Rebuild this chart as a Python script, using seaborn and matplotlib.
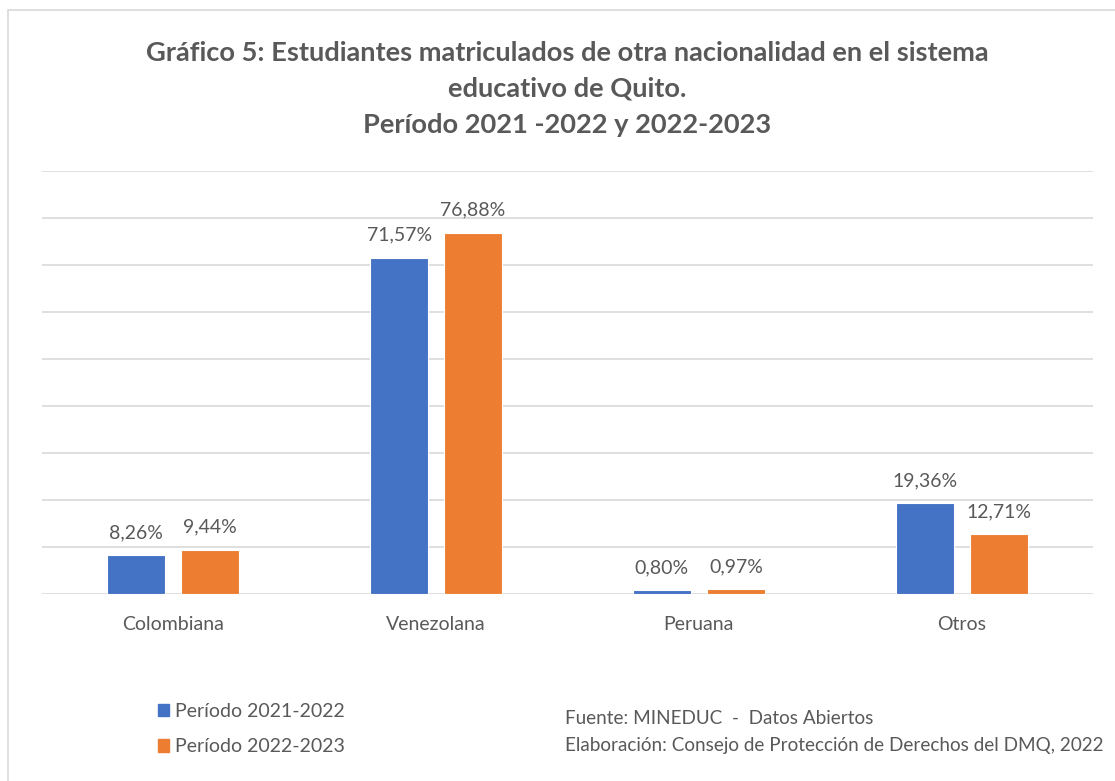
import matplotlib
matplotlib.use("Agg")
import matplotlib.pyplot as plt
from matplotlib.patches import Rectangle
import seaborn as sns
import pandas as pd

# data
nacionalidades = ["Colombiana", "Venezolana", "Peruana", "Otros"]
periodo_2021_2022 = [8.26, 71.57, 0.80, 19.36]
periodo_2022_2023 = [9.44, 76.88, 0.97, 12.71]
periodos = ["Período 2021-2022", "Período 2022-2023"]
colores = ["#4472C4", "#ED7D31"]

df = pd.DataFrame({
    "nacionalidad": nacionalidades * 2,
    "periodo": [periodos[0]] * 4 + [periodos[1]] * 4,
    "valor": periodo_2021_2022 + periodo_2022_2023,
})

sns.set_theme(style="white")
plt.rcParams["font.family"] = ["Lato", "DejaVu Sans"]
grey = "#595959"
fs = 14

fig = plt.figure(figsize=(11.15, 7.81), dpi=100)
W, H = 1115, 781
ax = fig.add_axes([42 / W, 1 - 594 / H, (1093 - 42) / W, (594 - 171) / H])

sns.barplot(data=df, x="nacionalidad", y="valor", hue="periodo",
            palette=colores, saturation=1, width=0.563, gap=0.216, ax=ax,
            edgecolor="white", linewidth=0.8, legend=False, zorder=3)

ax.set_ylim(0, 90)
ax.set_yticks(range(0, 91, 10))
ax.yaxis.grid(True, color="#D9D9D9", linewidth=1.2, zorder=0)
ax.set_axisbelow(True)
ax.tick_params(axis="y", left=False, labelleft=False)
ax.tick_params(axis="x", bottom=False, labelsize=fs, labelcolor=grey, pad=10)
for s in ax.spines.values():
    s.set_visible(False)
ax.set_xlabel("")
ax.set_ylabel("")

for cont in ax.containers:
    labels = [f"{b.get_height():.2f}%".replace(".", ",") for b in cont]
    ax.bar_label(cont, labels=labels, padding=10, fontsize=fs, color=grey)

fig.text(567 / W, 1 - 89 / H,
         "Gráfico 5: Estudiantes matriculados de otra nacionalidad en el sistema\n"
         "educativo de Quito.\nPeríodo 2021 -2022 y 2022-2023",
         ha="center", va="center", fontsize=19.6, fontweight="bold",
         color=grey, linespacing=1.62)

# outer chart border
fig.patches.append(Rectangle((8 / W, -0.05), 1.1, 1 - 10 / H + 0.05,
                             transform=fig.transFigure, fill=False,
                             edgecolor="#D9D9D9", linewidth=1.2))

handles = [Rectangle((0, 0), 1, 1, color=c) for c in colores]
leg = fig.legend(handles, periodos, loc="upper left",
                 bbox_to_anchor=(150 / W, 1 - 695 / H), frameon=False,
                 fontsize=fs, handlelength=0.6, handleheight=0.6,
                 handletextpad=0.3, labelspacing=0.95, borderaxespad=0)
for t in leg.get_texts():
    t.set_color(grey)

fig.text(565 / W, 1 - 718 / H, "Fuente: MINEDUC  -  Datos Abiertos",
         fontsize=13.6, color=grey, va="center")
fig.text(565 / W, 1 - 745 / H,
         "Elaboración: Consejo de Protección de Derechos del DMQ, 2022",
         fontsize=13.6, color=grey, va="center")

fig.savefig("out.png", dpi=100)
